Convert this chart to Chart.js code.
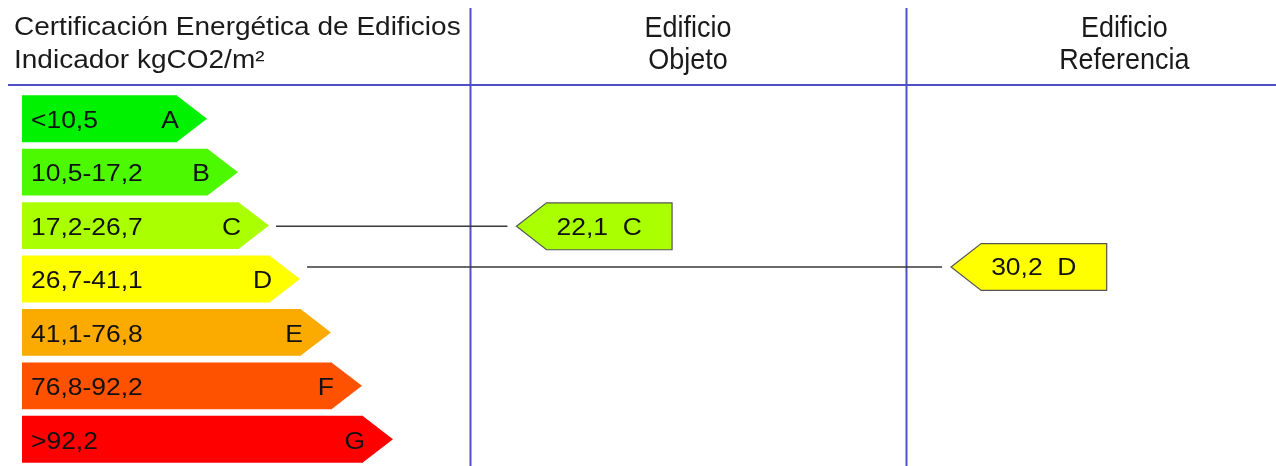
<!DOCTYPE html>
<html><head><meta charset="utf-8">
<script src="https://cdn.jsdelivr.net/npm/chart.js@4"></script>
<style>html,body{margin:0;padding:0;background:#fff;overflow:hidden}canvas{display:block}</style>
</head><body>
<canvas id="c" width="1276" height="466"></canvas>
<script>
// ---- data ----
const classLetters = ['A', 'B', 'C', 'D', 'E', 'F', 'G'];
const rangeLabels = ['<10,5', '10,5-17,2', '17,2-26,7', '26,7-41,1', '41,1-76,8', '76,8-92,2', '>92,2'];
const classLimits = [0, 10.5, 17.2, 26.7, 41.1, 76.8, 92.2, 120];
const barLengths = [5, 6, 7, 8, 9, 10, 11];
const classColors = ['#00f200', '#4cf900', '#aaff00', '#ffff00', '#fbaa00', '#ff5200', '#ff0000'];
const headerLines = ['Certificación Energética de Edificios', 'Indicador kgCO2/m²'];
const buildingNames = [['Edificio', 'Objeto'], ['Edificio', 'Referencia']];
const buildingValues = [22.1, 30.2];
const buildingClasses = ['C', 'D'];

// ---- layout (x units of the hidden linear axis) ----
const columnDividers = [14.45, 28.52, 42.6];
const markerTips = [15.95, 29.97];
const markerBody = 5;

function stretchText(ctx, text, x, y, align, sx) {
  ctx.save();
  ctx.translate(x, y);
  ctx.scale(sx, 1);
  ctx.textAlign = align;
  ctx.textBaseline = 'middle';
  ctx.fillText(text, 0, 0);
  ctx.restore();
}

const LABEL_FONT = '23px "Liberation Sans", Arial, sans-serif';
const LABEL_SX = 1.15;

const labelPlugin = {
  id: 'energyLabels',
  beforeDatasetsDraw(chart) {
    const ctx = chart.ctx;
    const xs = chart.scales.x;
    const area = chart.chartArea;
    ctx.save();
    ctx.strokeStyle = '#5050c4';
    ctx.lineWidth = 2;
    ctx.beginPath();
    ctx.moveTo(8, area.top - 7);
    ctx.lineTo(chart.width, area.top - 7);
    columnDividers.slice(0, 2).forEach(v => {
      const x = Math.round(xs.getPixelForValue(v)) + 0.5;
      ctx.moveTo(x, 8);
      ctx.lineTo(x, chart.height);
    });
    ctx.stroke();
    // headers
    ctx.fillStyle = '#1a1a1a';
    ctx.font = '25px "Liberation Sans", Arial, sans-serif';
    stretchText(ctx, headerLines[0], 14, 28, 'left', 1.12);
    stretchText(ctx, headerLines[1], 14, 61, 'left', 1.12);
    ctx.font = '29px "Liberation Sans", Arial, sans-serif';
    const colEdges = columnDividers.map(v => xs.getPixelForValue(v));
    buildingNames.forEach((lines, i) => {
      const cx = (colEdges[i] + colEdges[i + 1]) / 2;
      stretchText(ctx, lines[0], cx, 29, 'center', 0.93);
      stretchText(ctx, lines[1], cx, 61, 'center', 0.93);
    });
    ctx.restore();
  },
  afterDatasetsDraw(chart) {
    const ctx = chart.ctx;
    const xs = chart.scales.x;
    const meta = chart.getDatasetMeta(0);
    ctx.save();
    meta.data.forEach((bar, i) => {
      const h = bar.height;
      const top = bar.y - h / 2, bot = bar.y + h / 2;
      const tip = h * 0.64;
      ctx.fillStyle = classColors[i];
      ctx.beginPath();
      ctx.moveTo(bar.x - 0.5, top);
      ctx.lineTo(bar.x + tip, bar.y);
      ctx.lineTo(bar.x - 0.5, bot);
      ctx.closePath();
      ctx.fill();
      ctx.fillStyle = '#111';
      ctx.font = LABEL_FONT;
      stretchText(ctx, rangeLabels[i], bar.base + 9, bar.y + 3, 'left', LABEL_SX);
      stretchText(ctx, classLetters[i], bar.x + 2, bar.y + 3, 'right', LABEL_SX);
    });
    buildingValues.forEach((val, i) => {
      const k = classLetters.indexOf(buildingClasses[i]);
      const bar = meta.data[k];
      const h = bar.height;
      const frac = (val - classLimits[k]) / (classLimits[k + 1] - classLimits[k]);
      const y = bar.y - h / 2 + frac * h;
      const tipX = xs.getPixelForValue(markerTips[i]);
      const bodyL = xs.getPixelForValue(markerTips[i] + 0.97);
      const bodyR = xs.getPixelForValue(markerTips[i] + 0.97 + markerBody - 0.95);
      // connector
      ctx.strokeStyle = '#3a3a3a';
      ctx.lineWidth = 1.5;
      ctx.beginPath();
      ctx.moveTo(bar.x + h * 0.64 + 7, y);
      ctx.lineTo(tipX - 9, y);
      ctx.stroke();
      // marker
      ctx.fillStyle = classColors[k];
      ctx.strokeStyle = '#555';
      ctx.lineWidth = 1.2;
      ctx.beginPath();
      ctx.moveTo(tipX, y);
      ctx.lineTo(bodyL, y - h / 2);
      ctx.lineTo(bodyR, y - h / 2);
      ctx.lineTo(bodyR, y + h / 2);
      ctx.lineTo(bodyL, y + h / 2);
      ctx.closePath();
      ctx.fill();
      ctx.stroke();
      ctx.fillStyle = '#111';
      ctx.font = LABEL_FONT;
      stretchText(ctx, val.toFixed(1).replace('.', ',') + '  ' + buildingClasses[i], bodyL + 10, y + 2, 'left', LABEL_SX);
    });
    ctx.restore();
  }
};

new Chart(document.getElementById('c'), {
  type: 'bar',
  data: {
    labels: rangeLabels,
    datasets: [{
      data: barLengths,
      backgroundColor: classColors,
      borderWidth: 0,
      barPercentage: 0.877,
      categoryPercentage: 1
    }]
  },
  options: {
    indexAxis: 'y',
    responsive: false,
    animation: false,
    layout: { padding: { left: 22, right: 14, top: 92, bottom: 0 } },
    scales: {
      x: { type: 'linear', min: 0, max: 40, display: false },
      y: { display: false }
    },
    plugins: { legend: { display: false }, tooltip: { enabled: false } },
    events: []
  },
  plugins: [labelPlugin]
});
</script>
</body></html>
